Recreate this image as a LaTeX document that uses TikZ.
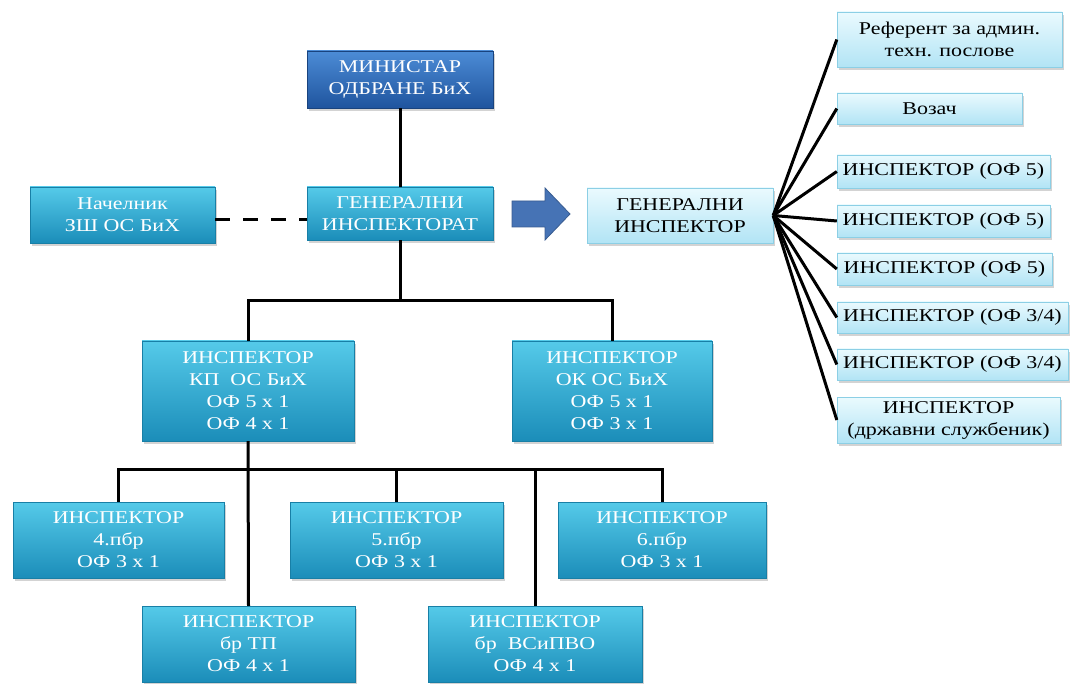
\documentclass[tikz,border=0pt]{standalone}
\usepackage{fontspec}
\setmainfont{Liberation Serif}[FakeStretch=1.22]
\usepackage{tikz}
\usetikzlibrary{positioning,calc,shadows}

\definecolor{cyantop}{HTML}{55CAE9}
\definecolor{cyanbot}{HTML}{1B8DB9}
\definecolor{bluetop}{HTML}{4C8CD6}
\definecolor{bluebot}{HTML}{1F549E}
\definecolor{palettop}{HTML}{EAFAFE}
\definecolor{palebot}{HTML}{B2E4F5}
\definecolor{paleedge}{HTML}{8CCFE5}
\definecolor{arrowblue}{HTML}{4673B5}

\begin{document}
\begin{tikzpicture}[x=1pt, y=-1pt,
            box/.style={rectangle, align=center, inner sep=0pt,
                font=\fontsize{18}{22}\selectfont,
                drop shadow={shadow xshift=2pt, shadow yshift=-3pt, opacity=0.35}},
            unit/.style={box, top color=cyantop, bottom color=cyanbot, draw=cyanbot!90!black, text=white},
            head/.style={box, top color=bluetop, bottom color=bluebot, draw=bluebot!80!black, text=white},
            staff/.style={box, top color=palettop, bottom color=palebot, draw=paleedge, text=black},
            link/.style={draw, line width=3pt}]
        \useasboundingbox (0,0) rectangle (1076,684);

        \node[head, minimum width=186pt, minimum height=57pt] (min) at (400,79.5) {МИНИСТАР\\ОДБРАНЕ БиХ};
        \node[unit, minimum width=186pt, minimum height=53pt] (gii) at (400,213.5) {ГЕНЕРАЛНИ\\ИНСПЕКТОРАТ};
        \node[unit, minimum width=185pt, minimum height=56pt] (nac) at (122.5,215) {Начелник\\ЗШ ОС БиХ};
        \node[staff, minimum width=186pt, minimum height=55pt] (gin) at (680,215.5) {ГЕНЕРАЛНИ\\ИНСПЕКТОР};

        \coordinate (arr) at (541,214);
        \filldraw[fill=arrowblue, draw=arrowblue!80!black, line width=0.8pt]
            ($(arr)+(-29,-13)$) -- ($(arr)+(4,-13)$) -- ($(arr)+(4,-26)$) -- ($(arr)+(29,0)$)
            -- ($(arr)+(4,26)$) -- ($(arr)+(4,13)$) -- ($(arr)+(-29,13)$) -- cycle;

        \node[unit, minimum width=212pt, minimum height=100pt] (kp) at (248,391) {ИНСПЕКТОР\\КП\ \ ОС БиХ\\ОФ 5 x 1\\ОФ 4 x 1};
        \node[unit, minimum width=200pt, minimum height=100pt] (ok) at (612,391) {ИНСПЕКТОР\\ОК ОС БиХ\\ОФ 5 x 1\\ОФ 3 x 1};

        \node[unit, minimum width=211pt, minimum height=76pt] (p4) at (118.5,540) {ИНСПЕКТОР\\4.пбр\\ОФ 3 x 1};
        \node[unit, minimum width=213pt, minimum height=76pt] (p5) at (396.5,540) {ИНСПЕКТОР\\5.пбр\\ОФ 3 x 1};
        \node[unit, minimum width=208pt, minimum height=76pt] (p6) at (662,540) {ИНСПЕКТОР\\6.пбр\\ОФ 3 x 1};
        \node[unit, minimum width=213pt, minimum height=76pt] (tp) at (248.5,644) {ИНСПЕКТОР\\бр ТП\\ОФ 4 x 1};
        \node[unit, minimum width=214pt, minimum height=76pt] (vs) at (535,644) {ИНСПЕКТОР\\бр\ \ ВСиПВО\\ОФ 4 x 1};

        \node[staff, minimum width=225pt, minimum height=55pt] (ref) at (949.5,39.5) {Референт за админ.\\техн. послове};
        \node[staff, minimum width=185pt, minimum height=31pt] (voz) at (929.5,108.5) {Возач};
        \node[staff, minimum width=213pt, minimum height=33pt] (i1) at (943.5,171.5) {ИНСПЕКТОР (ОФ 5)};
        \node[staff, minimum width=213pt, minimum height=32pt] (i2) at (943.5,221) {ИНСПЕКТОР (ОФ 5)};
        \node[staff, minimum width=215pt, minimum height=32pt] (i3) at (944.5,269) {ИНСПЕКТОР (ОФ 5)};
        \node[staff, minimum width=231pt, minimum height=31pt] (i4) at (952.5,317.5) {ИНСПЕКТОР (ОФ 3/4)};
        \node[staff, minimum width=231pt, minimum height=31pt] (i5) at (952.5,364.5) {ИНСПЕКТОР (ОФ 3/4)};
        \node[staff, minimum width=223pt, minimum height=46pt] (i6) at (948.5,420) {ИНСПЕКТОР\\(државни службеник)};

        \draw[link] (min.south) -- (gii.north);
        \coordinate (ds) at ($(nac.east)+(0,5)$);
        \draw[link, dash pattern=on 15pt off 13pt] (ds) -- (ds -| gii.west);
        \draw[link] (gii.south) -- ++(0,60) coordinate (bt);
        \draw[link] (kp.north) |- (bt) -| (ok.north);
        \draw[link] (kp.south) -- (tp.north);
        \draw[link] (p4.north) -- ++(0,-32) coordinate (bl) -- (bl -| p6.north) -- (p6.north);
        \draw[link] (p5.north) -- (p5.north |- bl);
        \draw[link] (vs.north) -- (vs.north |- bl);
        \foreach \b in {ref,voz,i1,i2,i3,i4,i5,i6}
            \draw[link] (gin.east) -- (\b.west);
\end{tikzpicture}
\end{document}
